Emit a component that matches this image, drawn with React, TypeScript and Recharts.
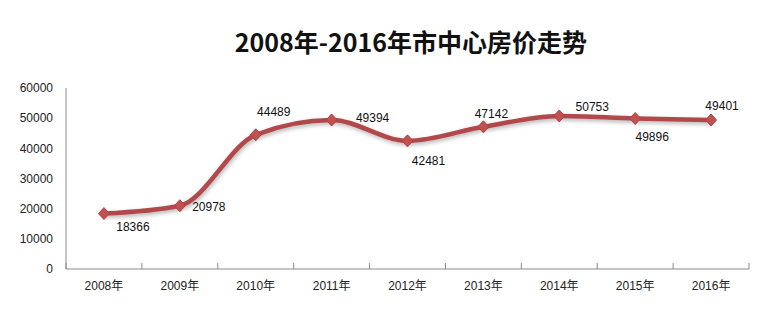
import React from 'react'
import { LineChart, Line, XAxis, YAxis, LabelList } from 'recharts'

const years = ['2008年', '2009年', '2010年', '2011年', '2012年', '2013年', '2014年', '2015年', '2016年']
const prices = [18366, 20978, 44489, 49394, 42481, 47142, 50753, 49896, 49401]
const yTicks = [0, 10000, 20000, 30000, 40000, 50000, 60000]
const title = '2008年-2016年市中心房价走势'

const data = years.map((year, i) => ({ year, price: prices[i] }))

// where each value label sits relative to its point (dx, dy)
const labelOffsets = [
  [29, 13],
  [29, 1],
  [18, -23],
  [41, -2],
  [21, 20],
  [8, -13],
  [33, -9],
  [17, 18],
  [11, -14],
]

const W = 778
const H = 321
const LEFT = 66
const RIGHT = 29
const band = (W - LEFT - RIGHT) / years.length
const font = '"Liberation Sans", "Noto Sans CJK SC", sans-serif'
const lineColor = '#b3484b'

const YearTick = (props: any) => {
  const { x, y, payload, index } = props
  return (
    <g>
      <line x1={x - band / 2} x2={x - band / 2} y1={y} y2={y - 6} stroke="#8a8a8a" />
      {index === years.length - 1 && (
        <line x1={x + band / 2} x2={x + band / 2} y1={y} y2={y - 6} stroke="#8a8a8a" />
      )}
      <text x={x} y={y + 21} textAnchor="middle" fontSize={12} fill="#222" fontFamily={font}>
        {payload.value}
      </text>
    </g>
  )
}

const Diamond = (props: any) => {
  const { cx, cy } = props
  if (cx == null || cy == null) return null
  return (
    <polygon
      points={`${cx},${cy - 6} ${cx + 5.5},${cy} ${cx},${cy + 6} ${cx - 5.5},${cy}`}
      fill="#c2504f"
      stroke="#a84245"
      strokeWidth={1}
    />
  )
}

const ValueLabel = (props: any) => {
  const { x, y, value, index } = props
  const [dx, dy] = labelOffsets[index] || [0, -12]
  return (
    <text x={x + dx} y={y + dy} dy="0.35em" textAnchor="middle" fontSize={12} fill="#111" fontFamily={font}>
      {value}
    </text>
  )
}

export default function App() {
  return (
    <div style={{ position: 'relative', width: W, height: H, background: '#fff' }}>
      <style>{`body{margin:0} .price-line path{filter:drop-shadow(1px 2px 2px rgba(0,0,0,0.3))}`}</style>
      <div
        style={{
          position: 'absolute',
          left: 111,
          width: 600,
          top: 25,
          lineHeight: '32px',
          textAlign: 'center',
          fontFamily: '"Noto Sans CJK SC", sans-serif',
          fontWeight: 'bold',
          fontSize: 25,
          color: '#111',
        }}
      >
        {title}
      </div>
      <LineChart width={W} height={H} data={data} margin={{ top: 88, right: RIGHT, left: 0, bottom: 22 }}>
        <XAxis
          dataKey="year"
          scale="band"
          height={30}
          tickSize={0}
          tickMargin={0}
          interval={0}
          axisLine={{ stroke: '#8a8a8a' }}
          tick={<YearTick />}
        />
        <YAxis
          width={LEFT}
          domain={[0, 60000]}
          ticks={yTicks}
          interval={0}
          tickLine={false}
          tickSize={0}
          tickMargin={13}
          axisLine={{ stroke: '#8a8a8a' }}
          tick={{ fontSize: 12, fill: '#222', fontFamily: font }}
        />
        <Line
          className="price-line"
          type="monotone"
          dataKey="price"
          stroke={lineColor}
          strokeWidth={4.5}
          dot={<Diamond />}
          activeDot={false}
          isAnimationActive={false}
        >
          <LabelList dataKey="price" content={<ValueLabel />} />
        </Line>
      </LineChart>
    </div>
  )
}
